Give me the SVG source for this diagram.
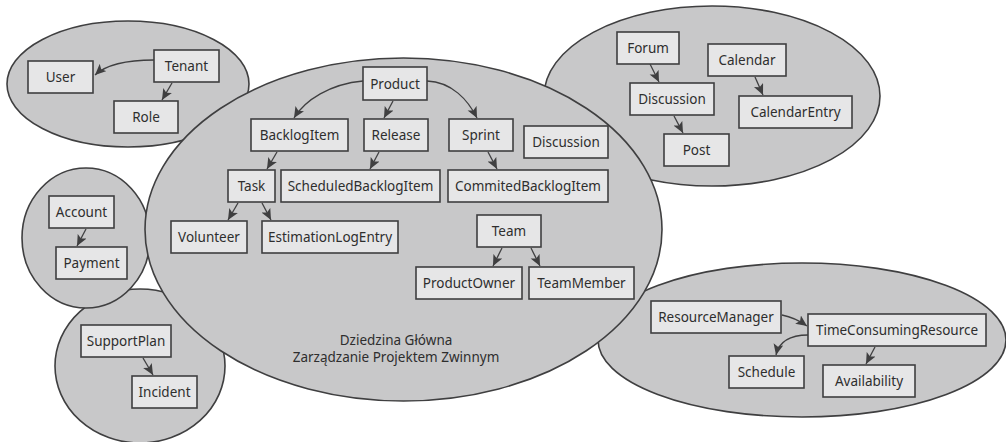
<svg xmlns="http://www.w3.org/2000/svg" width="1006" height="442" viewBox="0 0 1006 442">
<defs>
<style>
.dom{fill:#c8c8c9;stroke:#3f3f40;stroke-width:1.6}
.box{fill:#e6e6e7;stroke:#3f3f40;stroke-width:1.6}
.t{font-family:"Noto Sans","Open Sans",sans-serif;font-size:13.5px;fill:#2e2e2e;text-anchor:middle;dominant-baseline:central}
.lbl{font-family:"Noto Sans","Open Sans",sans-serif;font-size:13.5px;fill:#2e2e2e;text-anchor:middle}
.c{fill:none;stroke:#3f3f40;stroke-width:1.3;marker-end:url(#ah)}
</style>
<marker id="ah" markerUnits="userSpaceOnUse" markerWidth="13" markerHeight="11" refX="11" refY="5" orient="auto">
<path d="M0,0 L11,5 L0,10 L2.5,5 z" fill="#3f3f40"/>
</marker>
</defs>
<rect width="1006" height="442" fill="#ffffff"/>
<g id="domains">
<ellipse class="dom" cx="140" cy="366" rx="85" ry="77"/>
<ellipse class="dom" cx="86" cy="238" rx="64" ry="70"/>
<ellipse class="dom" cx="128" cy="84" rx="121" ry="63"/>
<ellipse class="dom" cx="712" cy="96" rx="168" ry="90"/>
<ellipse class="dom" cx="802" cy="340" rx="204" ry="77"/>
<ellipse class="dom" cx="403.5" cy="229.5" rx="258.5" ry="171.5"/>
<text class="lbl" x="396" y="345">Dziedzina Główna</text>
<text class="lbl" x="396" y="362">Zarządzanie Projektem Zwinnym</text>
</g>
<g id="connectors">
<path class="c" d="M154,60 C130,60 108,63 95,75"/>
<path class="c" d="M172,83 L162,100"/>
<path class="c" d="M363,81 C330,84 305,100 294,118"/>
<path class="c" d="M393,101 L384,118"/>
<path class="c" d="M427,81 C452,82 468,100 477,118"/>
<path class="c" d="M277,152 L267,169"/>
<path class="c" d="M379,152 L370,169"/>
<path class="c" d="M238,203 L228,220"/>
<path class="c" d="M262,203 L271,220"/>
<path class="c" d="M488,152 L497,169"/>
<path class="c" d="M502,248 L493,266"/>
<path class="c" d="M531,248 L540,266"/>
<path class="c" d="M650,64 L659,82"/>
<path class="c" d="M674,116 L683,133"/>
<path class="c" d="M755,77 L763,95"/>
<path class="c" d="M86,229 L77,246"/>
<path class="c" d="M143,358 L153,375"/>
<path class="c" d="M782,315 C792,317 800,321 807,326"/>
<path class="c" d="M808,335 C790,335 779,342 776,355"/>
<path class="c" d="M875,347 L866,364"/>
</g>
<g id="n-user"><rect class="box" x="28" y="61" width="65" height="32"/><text class="t" x="60.5" y="77">User</text></g>
<g id="n-tenant"><rect class="box" x="154" y="50" width="65" height="32"/><text class="t" x="186.5" y="66">Tenant</text></g>
<g id="n-role"><rect class="box" x="114" y="101" width="64" height="32"/><text class="t" x="146" y="117">Role</text></g>
<g id="n-product"><rect class="box" x="363" y="67" width="64" height="33"/><text class="t" x="395" y="83.5">Product</text></g>
<g id="n-backlogitem"><rect class="box" x="251" y="119" width="97" height="32"/><text class="t" x="299.5" y="135">BacklogItem</text></g>
<g id="n-release"><rect class="box" x="364" y="119" width="64" height="32"/><text class="t" x="396" y="135">Release</text></g>
<g id="n-sprint"><rect class="box" x="449" y="119" width="64" height="32"/><text class="t" x="481" y="135">Sprint</text></g>
<g id="n-discussion-main"><rect class="box" x="524" y="126" width="84" height="32"/><text class="t" x="566" y="142">Discussion</text></g>
<g id="n-task"><rect class="box" x="228" y="170" width="47" height="32"/><text class="t" x="251.5" y="186">Task</text></g>
<g id="n-scheduledbacklogitem"><rect class="box" x="281" y="170" width="159" height="32"/><text class="t" x="360.5" y="186">ScheduledBacklogItem</text></g>
<g id="n-commitedbacklogitem"><rect class="box" x="448" y="170" width="160" height="32"/><text class="t" x="528" y="186">CommitedBacklogItem</text></g>
<g id="n-volunteer"><rect class="box" x="171" y="221" width="76" height="32"/><text class="t" x="209" y="237">Volunteer</text></g>
<g id="n-estimationlogentry"><rect class="box" x="262" y="221" width="136" height="32"/><text class="t" x="330" y="237">EstimationLogEntry</text></g>
<g id="n-team"><rect class="box" x="477" y="215" width="64" height="32"/><text class="t" x="509" y="231">Team</text></g>
<g id="n-productowner"><rect class="box" x="416" y="267" width="106" height="32"/><text class="t" x="469" y="283">ProductOwner</text></g>
<g id="n-teammember"><rect class="box" x="529" y="267" width="105" height="32"/><text class="t" x="581.5" y="283">TeamMember</text></g>
<g id="n-forum"><rect class="box" x="617" y="32" width="62" height="32"/><text class="t" x="648" y="48">Forum</text></g>
<g id="n-calendar"><rect class="box" x="708" y="44" width="78" height="32"/><text class="t" x="747" y="60">Calendar</text></g>
<g id="n-discussion"><rect class="box" x="630" y="83" width="84" height="32"/><text class="t" x="672" y="99">Discussion</text></g>
<g id="n-calendarentry"><rect class="box" x="739" y="96" width="113" height="32"/><text class="t" x="795.5" y="112">CalendarEntry</text></g>
<g id="n-post"><rect class="box" x="664" y="134" width="65" height="32"/><text class="t" x="696.5" y="150">Post</text></g>
<g id="n-account"><rect class="box" x="49" y="196" width="65" height="32"/><text class="t" x="81.5" y="212">Account</text></g>
<g id="n-payment"><rect class="box" x="56" y="247" width="71" height="32"/><text class="t" x="91.5" y="263">Payment</text></g>
<g id="n-supportplan"><rect class="box" x="81" y="325" width="90" height="32"/><text class="t" x="126" y="341">SupportPlan</text></g>
<g id="n-incident"><rect class="box" x="132" y="376" width="65" height="32"/><text class="t" x="164.5" y="392">Incident</text></g>
<g id="n-resourcemanager"><rect class="box" x="651" y="301" width="130" height="32"/><text class="t" x="716" y="317">ResourceManager</text></g>
<g id="n-timeconsumingresource"><rect class="box" x="808" y="314" width="178" height="32"/><text class="t" x="897" y="330">TimeConsumingResource</text></g>
<g id="n-schedule"><rect class="box" x="729" y="356" width="75" height="32"/><text class="t" x="766.5" y="372">Schedule</text></g>
<g id="n-availability"><rect class="box" x="823" y="365" width="92" height="32"/><text class="t" x="869" y="381">Availability</text></g>
</svg>
